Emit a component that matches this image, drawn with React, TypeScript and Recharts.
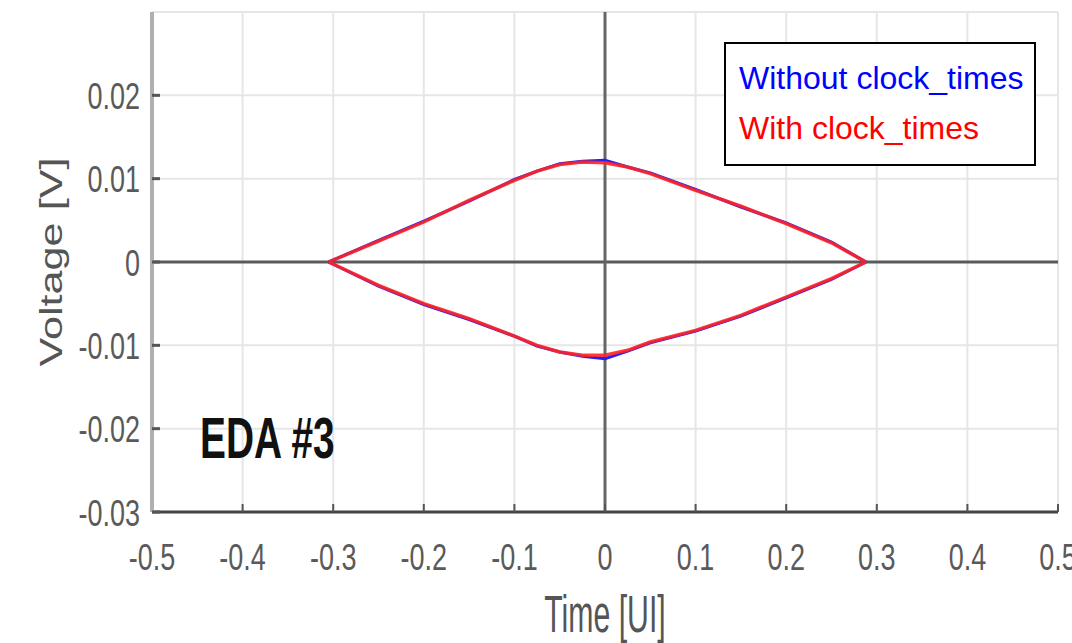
import React from 'react';
import { LineChart, Line, XAxis, YAxis, CartesianGrid, ReferenceLine } from 'recharts';

// time axis [UI] shared by all traces
const timeUI = [-0.305, -0.25, -0.2, -0.15, -0.1, -0.075, -0.05, -0.025, 0, 0.025, 0.05, 0.1, 0.15, 0.2, 0.25, 0.288];

// eye contour, with clock_times (red)
const withUpper = [0, 0.0025, 0.0048, 0.0074, 0.0098, 0.0109, 0.0117, 0.012, 0.0119, 0.0114, 0.0106, 0.0086, 0.0067, 0.0046, 0.0023, 0];
const withLower = [0, -0.0028, -0.005, -0.0068, -0.0089, -0.01, -0.0108, -0.0112, -0.0112, -0.0106, -0.0096, -0.0082, -0.0064, -0.0042, -0.002, 0];

// eye contour, without clock_times (blue)
const withoutUpper = [0, 0.0026, 0.0049, 0.0073, 0.0099, 0.0109, 0.0118, 0.0121, 0.0122, 0.0114, 0.0107, 0.0087, 0.0066, 0.0047, 0.0024, 0];
const withoutLower = [0, -0.0029, -0.0051, -0.0069, -0.0089, -0.0101, -0.0108, -0.0113, -0.0116, -0.0107, -0.0097, -0.0083, -0.0065, -0.0043, -0.0021, 0];

const xTicks = [-0.5, -0.4, -0.3, -0.2, -0.1, 0, 0.1, 0.2, 0.3, 0.4, 0.5];
const xTickLabels = ['-0.5', '-0.4', '-0.3', '-0.2', '-0.1', '0', '0.1', '0.2', '0.3', '0.4', '0.5'];
const yTicks = [-0.03, -0.02, -0.01, 0, 0.01, 0.02];
const yTickLabels = ['-0.03', '-0.02', '-0.01', '0', '0.01', '0.02'];

const legendItems = [
  { name: 'Without clock_times', color: '#0000ff' },
  { name: 'With clock_times', color: '#ff0000' },
];

const toSeries = (vals: number[]) => timeUI.map((t, i) => ({ t, v: vals[i] }));

const W = 1072;
const H = 643;
const FONT = '"Liberation Sans", Arial, sans-serif';

const XTick = (props: any) => {
  const { x, y, payload } = props;
  const idx = xTicks.indexOf(payload.value);
  return (
    <text transform={`translate(${x}, ${y}) scale(1, 1.4)`} textAnchor="middle" fontSize={27} fontFamily={FONT} fill="#5a5a5a">
      {idx >= 0 ? xTickLabels[idx] : payload.value}
    </text>
  );
};

const YTick = (props: any) => {
  const { x, y, payload } = props;
  const idx = yTicks.indexOf(payload.value);
  return (
    <text transform={`translate(${x}, ${y}) scale(1, 1.4)`} textAnchor="end" dy="0.36em" fontSize={27} fontFamily={FONT} fill="#5a5a5a">
      {idx >= 0 ? yTickLabels[idx] : payload.value}
    </text>
  );
};

const NoTick = () => <g />;

export default function App() {
  return (
    <div style={{ position: 'absolute', left: 0, top: 0, width: W, height: H, background: '#fff' }}>
      <LineChart width={W} height={H} margin={{ top: 12, right: 14, left: 0, bottom: 0 }}>
        <CartesianGrid stroke="#e6e6e6" strokeWidth={2} />
        <XAxis
          xAxisId={0}
          dataKey="t"
          type="number"
          domain={[-0.5, 0.5]}
          ticks={xTicks}
          allowDataOverflow
          height={131}
          tickSize={-8}
          tickMargin={66}
          tick={<XTick />}
          axisLine={{ stroke: '#444', strokeWidth: 3 }}
          tickLine={{ stroke: '#555', strokeWidth: 2 }}
        />
        <XAxis
          xAxisId="top"
          orientation="top"
          dataKey="t"
          type="number"
          domain={[-0.5, 0.5]}
          ticks={xTicks}
          allowDataOverflow
          height={0}
          tickSize={-8}
          tick={<NoTick />}
          axisLine={{ stroke: '#555', strokeWidth: 3 }}
          tickLine={{ stroke: '#666', strokeWidth: 2 }}
        />
        <YAxis
          yAxisId={0}
          type="number"
          domain={[-0.03, 0.03]}
          ticks={yTicks}
          allowDataOverflow
          width={152}
          tickSize={-8}
          tickMargin={20}
          tick={<YTick />}
          axisLine={{ stroke: '#b0b0b0', strokeWidth: 4 }}
          tickLine={{ stroke: '#555', strokeWidth: 3 }}
        />
        <YAxis
          yAxisId="right"
          orientation="right"
          type="number"
          domain={[-0.03, 0.03]}
          ticks={yTicks}
          allowDataOverflow
          width={0}
          tickSize={-8}
          tick={<NoTick />}
          axisLine={{ stroke: '#8a8a8a', strokeWidth: 3 }}
          tickLine={{ stroke: '#777', strokeWidth: 3 }}
        />
        <ReferenceLine y={0} stroke="#5a5a5a" strokeWidth={3} />
        <ReferenceLine x={0} stroke="#666" strokeWidth={3} />

        <Line data={toSeries(withoutUpper)} dataKey="v" name="Without clock_times" type="linear" stroke="#2020ff" strokeWidth={3} dot={false} isAnimationActive={false} />
        <Line data={toSeries(withoutLower)} dataKey="v" name="Without clock_times" type="linear" stroke="#2020ff" strokeWidth={3} dot={false} isAnimationActive={false} legendType="none" />
        <Line data={toSeries(withUpper)} dataKey="v" name="With clock_times" type="linear" stroke="#ff2424" strokeWidth={3.5} strokeOpacity={0.9} dot={false} isAnimationActive={false} />
        <Line data={toSeries(withLower)} dataKey="v" name="With clock_times" type="linear" stroke="#ff2424" strokeWidth={3.5} strokeOpacity={0.9} dot={false} isAnimationActive={false} legendType="none" />
      </LineChart>

      {/* titles and annotation drawn over the chart */}
      <svg width={W} height={H} style={{ position: 'absolute', left: 0, top: 0, pointerEvents: 'none' }}>
        <text transform="translate(62, 262) rotate(-90) scale(1.35, 1)" textAnchor="middle" fontSize={32} fontFamily={FONT} fill="#555">
          Voltage [V]
        </text>
        <text transform="translate(605, 632) scale(0.84, 1.45)" textAnchor="middle" fontSize={36} fontFamily={FONT} fill="#555">
          Time [UI]
        </text>
        <text transform="translate(200, 458) scale(0.67, 1)" fontSize={58} fontWeight="bold" fontFamily={FONT} fill="#111">
          EDA #3
        </text>
      </svg>

      <div
        style={{
          position: 'absolute',
          left: 724,
          top: 42,
          width: 308,
          height: 120,
          border: '2px solid #000',
          background: '#fff',
          fontFamily: FONT,
          fontSize: 32,
        }}
      >
        {legendItems.map((item, i) => (
          <div key={item.name} style={{ position: 'absolute', left: 13, top: 16 + i * 50, color: item.color, lineHeight: '36px', whiteSpace: 'nowrap' }}>
            {item.name}
          </div>
        ))}
      </div>
    </div>
  );
}
